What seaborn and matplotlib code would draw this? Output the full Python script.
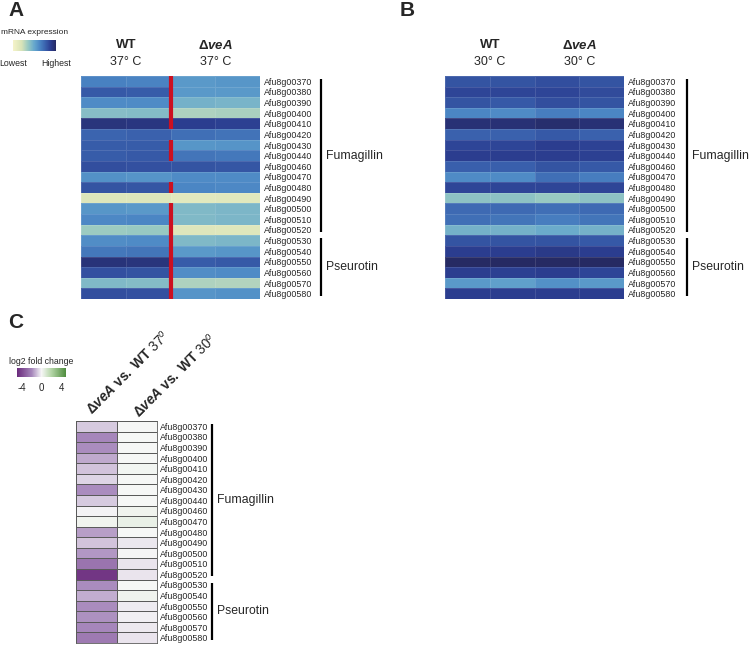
"""Fumagillin / pseurotin cluster expression heatmaps."""

import matplotlib.pyplot as plt
import matplotlib.transforms as mtransforms
import numpy as np
import pandas as pd
import seaborn as sns
from matplotlib.colors import LinearSegmentedColormap

W, H = 749, 645

GENES = [
    "Afu8g00370", "Afu8g00380", "Afu8g00390", "Afu8g00400", "Afu8g00410",
    "Afu8g00420", "Afu8g00430", "Afu8g00440", "Afu8g00460", "Afu8g00470",
    "Afu8g00480", "Afu8g00490", "Afu8g00500", "Afu8g00510", "Afu8g00520",
    "Afu8g00530", "Afu8g00540", "Afu8g00550", "Afu8g00560", "Afu8g00570",
    "Afu8g00580",
]
# (name, first row, last row exclusive)
GROUPS = [("Fumagillin", 0, 15), ("Pseurotin", 15, 21)]

# relative mRNA expression, 37 C: WT rep1, WT rep2, dveA rep1, dveA rep2
WT37_1 = [0.64, 0.78, 0.60, 0.40, 0.93, 0.74, 0.77, 0.77, 0.82, 0.58, 0.80,
          0.17, 0.56, 0.61, 0.34, 0.59, 0.67, 0.94, 0.81, 0.42, 0.82]
WT37_2 = [0.63, 0.77, 0.60, 0.41, 0.92, 0.75, 0.77, 0.78, 0.81, 0.57, 0.79,
          0.17, 0.55, 0.62, 0.35, 0.60, 0.68, 0.93, 0.80, 0.41, 0.81]
VEA37_1 = [0.55, 0.55, 0.45, 0.30, 0.88, 0.70, 0.56, 0.68, 0.80, 0.60, 0.62,
           0.13, 0.42, 0.42, 0.16, 0.42, 0.55, 0.77, 0.59, 0.30, 0.57]
VEA37_2 = [0.56, 0.55, 0.44, 0.31, 0.87, 0.69, 0.57, 0.67, 0.79, 0.60, 0.61,
           0.14, 0.43, 0.43, 0.15, 0.43, 0.56, 0.78, 0.60, 0.29, 0.58]
# rows where dveA differs significantly from WT (red bar)
SIG37 = [1, 1, 1, 1, 1, 0, 1, 1, 0, 0, 1, 0, 1, 1, 1, 1, 1, 1, 1, 1, 1]

# relative mRNA expression, 30 C
WT30_1 = [0.80, 0.85, 0.80, 0.62, 0.95, 0.75, 0.85, 0.88, 0.76, 0.60, 0.85,
          0.38, 0.72, 0.70, 0.45, 0.80, 0.88, 1.00, 0.88, 0.55, 0.88]
WT30_2 = [0.80, 0.85, 0.78, 0.60, 0.95, 0.75, 0.85, 0.88, 0.76, 0.60, 0.85,
          0.38, 0.72, 0.68, 0.45, 0.80, 0.88, 1.00, 0.87, 0.52, 0.88]
VEA30_1 = [0.82, 0.85, 0.82, 0.65, 0.97, 0.78, 0.88, 0.88, 0.80, 0.70, 0.85,
           0.35, 0.70, 0.65, 0.48, 0.80, 0.90, 1.00, 0.88, 0.58, 0.88]
VEA30_2 = [0.80, 0.83, 0.80, 0.62, 0.95, 0.75, 0.86, 0.87, 0.78, 0.65, 0.85,
           0.38, 0.72, 0.68, 0.45, 0.78, 0.88, 1.00, 0.85, 0.55, 0.88]

# log2 fold change dveA vs WT
LFC37 = [-0.8, -2.0, -1.9, -1.4, -0.9, -0.6, -1.9, -0.8, -0.1, 0.2, -1.6,
         -0.9, -1.7, -2.6, -4.6, -1.9, -1.3, -1.9, -1.8, -2.0, -2.4]
LFC30 = [0.05, 0.0, 0.0, 0.0, 0.15, 0.0, 0.0, 0.0, 0.2, 0.4, 0.0,
         -0.3, -0.05, -0.35, -0.35, 0.0, 0.2, -0.2, -0.15, -0.25, -0.35]
LFC_COLS = ["37", "30"]

EXPR_CMAP = LinearSegmentedColormap.from_list(
    "expr",
    [(0.0, "#f5f3c9"), (0.2, "#d8e3b8"), (0.35, "#98c9c2"), (0.5, "#64a6cd"),
     (0.62, "#4b86c4"), (0.75, "#3a62ae"), (0.88, "#2b3d90"), (1.0, "#262a63")],
)
LFC_CMAP = LinearSegmentedColormap.from_list(
    "lfc",
    [(0.0, "#6a2a7c"), (0.3, "#a687bb"), (0.5, "#f7f7f7"), (0.7, "#b5d6a8"),
     (1.0, "#4f8d3e")],
)

sns.set_theme(style="white")
plt.rcParams["font.family"] = ["Liberation Sans", "DejaVu Sans"]
plt.rcParams["mathtext.fontset"] = "custom"
plt.rcParams["mathtext.rm"] = "Liberation Sans"
plt.rcParams["mathtext.it"] = "Liberation Sans:italic"
plt.rcParams["mathtext.bf"] = "Liberation Sans:bold"
plt.rcParams["mathtext.bfit"] = "Liberation Sans:bold:italic"

DVEA = r"$\mathbf{\Delta}\mathbfit{veA}$"


def px_rect(x0, y0, x1, y1):
    """Axes rect from pixel box (top-left origin)."""
    return [x0 / W, 1 - y1 / H, (x1 - x0) / W, (y1 - y0) / H]


def gene_labels(ax, pad):
    ax.yaxis.tick_right()
    ax.tick_params(axis="y", length=0, pad=pad, labelsize=6.4,
                   labelright=True, labelleft=False)
    plt.setp(ax.get_yticklabels(), rotation=0)
    ax.set_xlabel("")
    ax.set_ylabel("")


def add_brackets(ax, x_frac):
    trans = mtransforms.blended_transform_factory(ax.transAxes, ax.transData)
    for name, start, stop in GROUPS:
        ax.plot([x_frac, x_frac], [start + 0.3, stop - 0.3], transform=trans,
                color="black", lw=1.6, clip_on=False, solid_capstyle="butt")
        ax.annotate(name, xy=(x_frac, (start + stop) / 2), xycoords=trans,
                    xytext=(3.5, 0), textcoords="offset points",
                    ha="left", va="center", fontsize=8.8)


def add_headers(ax, temp):
    for col, name in [(1, "WT"), (3, DVEA)]:
        ax.annotate(name, xy=(col, 1), xycoords=("data", "axes fraction"),
                    xytext=(0, 22), textcoords="offset points",
                    ha="center", va="center", fontsize=9.5, fontweight="bold")
        ax.annotate(f"{temp}° C", xy=(col, 1), xycoords=("data", "axes fraction"),
                    xytext=(0, 10), textcoords="offset points",
                    ha="center", va="center", fontsize=9)


def expr_heatmap(ax, cols):
    df = pd.DataFrame(np.array(cols).T, index=GENES)
    sns.heatmap(df, ax=ax, cmap=EXPR_CMAP, vmin=0, vmax=1, cbar=False,
                xticklabels=False, yticklabels=GENES,
                linewidths=0.4, linecolor=(1, 1, 1, 0.12))
    gene_labels(ax, 3)


fig = plt.figure(figsize=(W / 100, H / 100), dpi=100)

# ---- panel A
ax_a = fig.add_axes(px_rect(81, 76, 260, 299))
expr_heatmap(ax_a, [WT37_1, WT37_2, VEA37_1, VEA37_2])
sig_rows = np.flatnonzero(SIG37)
ax_a.vlines(np.full(len(sig_rows), 2), sig_rows, sig_rows + 1,
            color="#cc1020", lw=3)
add_headers(ax_a, 37)
add_brackets(ax_a, 1.343)

cax_a = fig.add_axes(px_rect(13, 40, 56, 51))
cb_a = fig.colorbar(ax_a.collections[0], cax=cax_a, orientation="horizontal",
                    ticks=[0, 1])
cb_a.ax.set_xticklabels(["Lowest", "Highest"])
cb_a.outline.set_visible(False)
cb_a.ax.tick_params(length=0, labelsize=6.3, pad=6)
cb_a.ax.set_title("mRNA expression", fontsize=6.0, pad=4)

# ---- panel B
ax_b = fig.add_axes(px_rect(445, 76, 624, 299))
expr_heatmap(ax_b, [WT30_1, WT30_2, VEA30_1, VEA30_2])
add_headers(ax_b, 30)
add_brackets(ax_b, 1.35)

# ---- panel C
ax_c = fig.add_axes(px_rect(76, 421, 157, 643))
lfc = pd.DataFrame({"37": LFC37, "30": LFC30}, index=GENES)
sns.heatmap(lfc, ax=ax_c, cmap=LFC_CMAP, vmin=-5, vmax=5, cbar=False,
            xticklabels=False, yticklabels=GENES,
            linewidths=0.5, linecolor="#5a5a5a")
for side in ax_c.spines.values():
    side.set_visible(True)
    side.set_color("#5a5a5a")
    side.set_linewidth(0.6)
gene_labels(ax_c, 2)
add_brackets(ax_c, 1.68)
label_offsets = [(-3, 4), (2, 2)]
for col, temp in enumerate(LFC_COLS):
    ax_c.annotate(DVEA[:-1] + r"\ \mathbf{vs.\ WT}\ " + temp + r"^{o}$",
                  xy=(col + 0.5, 0), xycoords="data",
                  xytext=label_offsets[col], textcoords="offset points",
                  rotation=45, rotation_mode="anchor",
                  ha="left", va="baseline", fontsize=9.8)

cax_c = fig.add_axes(px_rect(17, 368, 66, 377))
cb_c = fig.colorbar(ax_c.collections[0], cax=cax_c, orientation="horizontal",
                    ticks=[-4, 0, 4])
cb_c.ax.set_xticklabels(["-4", "0", "4"])
cb_c.outline.set_visible(False)
cb_c.ax.tick_params(length=0, labelsize=7, pad=4)
cb_c.ax.set_title("log2 fold change", fontsize=6.3, pad=3)

# ---- panel letters
for letter, x, y in [("A", 16, 10), ("B", 407, 10), ("C", 16, 323)]:
    fig.text(x / W, 1 - y / H, letter, fontsize=15, fontweight="bold",
             ha="center", va="center")

fig.savefig("out.png", dpi=100)
plt.close(fig)
